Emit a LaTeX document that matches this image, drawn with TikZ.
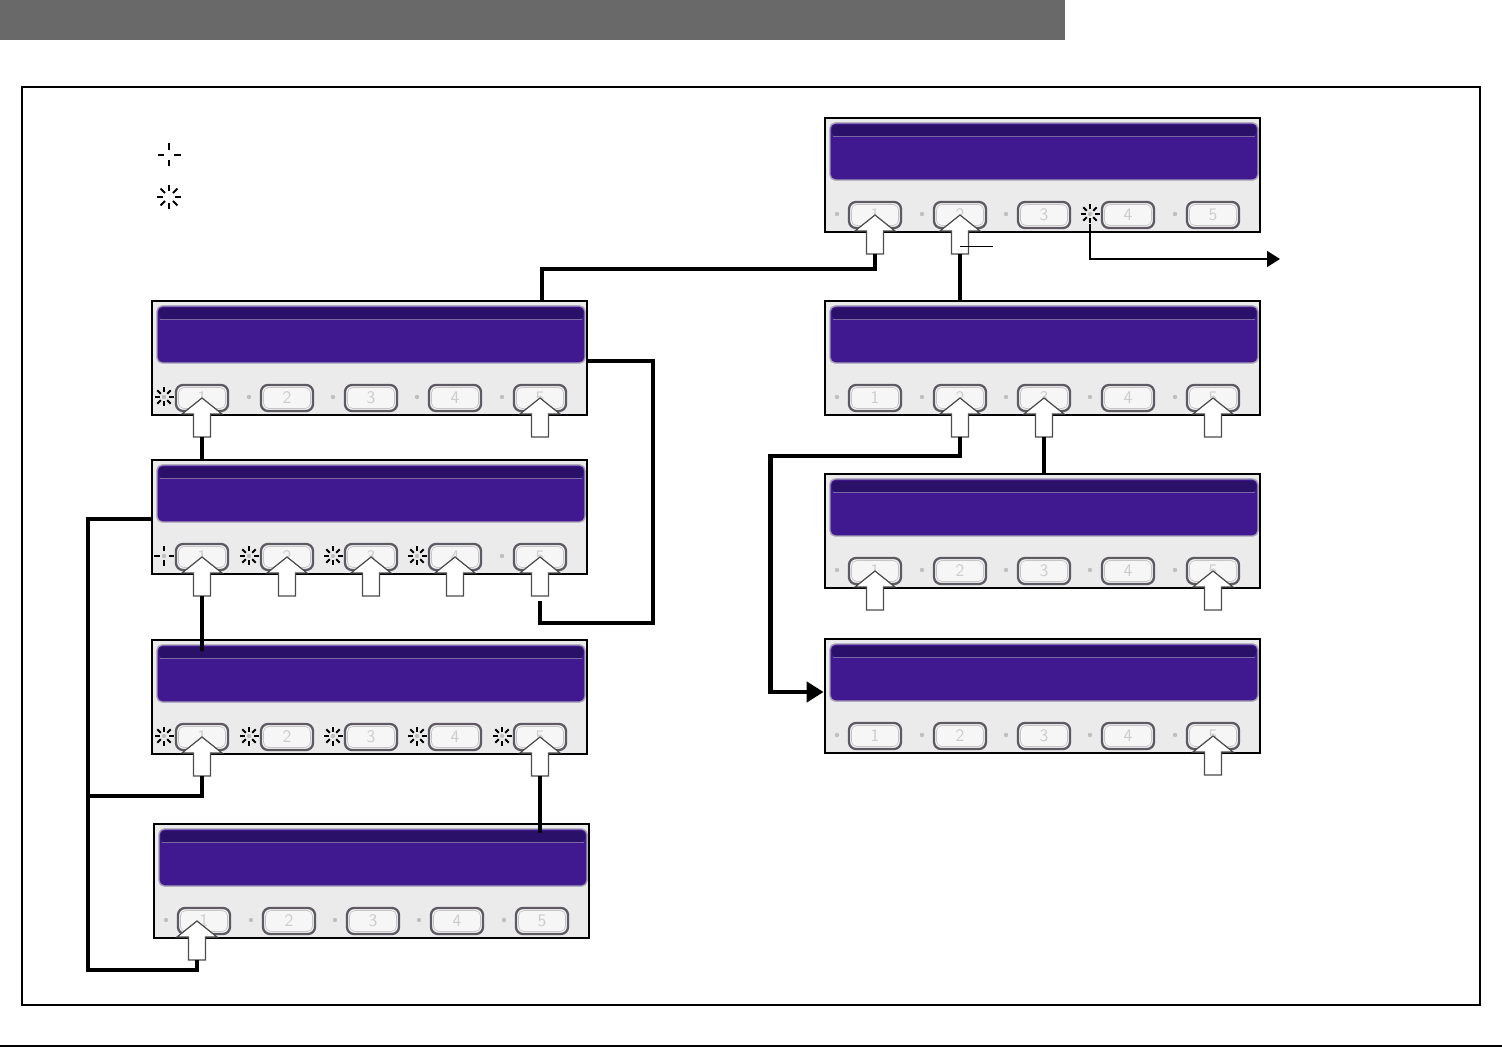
\documentclass[tikz,border=0pt]{standalone}
\usepackage{xcolor}
\usepackage{tikz}
\usetikzlibrary{arrows.meta,positioning,calc}

\definecolor{headgray}{HTML}{696969}
\definecolor{panelgray}{HTML}{EBEBEB}
\definecolor{lcdmain}{HTML}{40188F}
\definecolor{lcdtop}{HTML}{2A1068}
\definecolor{lcdrim}{HTML}{A49CB4}
\definecolor{keyrim}{HTML}{5E5963}
\definecolor{keyface}{HTML}{F6F6F6}

% one keypad: name, left, top (pixel units)
\newcommand{\keypad}[3]{%
\begin{scope}[shift={(#2,#3)}]
\node[panel] (#1) at (217.5,57) {};
\draw[lcd] (5,5) rectangle (433,62);
\fill[lcdtop,rounded corners=2pt] (7,7) rectangle (431,18);
\draw[lcdrim!60!lcdmain,line width=0.5pt] (8,18.5) -- (430,18.5);
\foreach \k/\bx in {1/50,2/135,3/219,4/303,5/388}{%
  \coordinate (#1-k\k) at (\bx,97);
  \coordinate (#1-l\k) at (\bx-38,96);
  \fill[gray!50] (#1-l\k) circle (2.2);
  \draw[key] (\bx-26,84) rectangle (\bx+26,110);
  \draw[gray!45,line width=0.4pt,rounded corners=3pt] (\bx-23.5,86.5) rectangle (\bx+23.5,107.5);
  \node[keynum] at (#1-k\k) {\k};
}
\end{scope}}

\begin{document}
\begin{tikzpicture}[x=0.02cm,y=-0.02cm,
  panel/.style={draw,line width=1.6pt,fill=panelgray,minimum width=8.7cm,minimum height=2.28cm,inner sep=0pt},
  lcd/.style={fill=lcdmain,draw=lcdrim,line width=0.8pt,rounded corners=3pt},
  key/.style={fill=keyface,draw=keyrim,line width=1.3pt,rounded corners=4pt},
  keynum/.style={font=\sffamily,text=gray!40,inner sep=0pt},
  presskey/.style={fill=white,draw=gray!60!black,line width=0.7pt,line join=miter},
  link/.style={line width=2.8pt,line join=miter},
  note/.style={line width=0.9pt,-{Triangle[length=2.6mm,width=3.2mm]}},
  leader/.style={line width=0.5pt},
  ray/.style={line width=1.1pt},
  press/.pic={\path[presskey] (0,0) -- (-20,16) -- (-8.5,16) -- (-8.5,39) -- (8.5,39) -- (8.5,16) -- (20,16) -- cycle;
    \coordinate (-foot) at (0,39);},
  ledblink/.pic={\foreach \a in {0,45,...,315} \draw[ray] (\a:4.5) -- (\a:9.5);},
  ledon/.pic={\foreach \a in {0,90,180,270} \draw[ray] (\a:4.5) -- (\a:10);}]
\useasboundingbox (0,0) rectangle (1502,1047);

% page frame
\fill[headgray] (0,0) rectangle (1065,40);
\draw[line width=1.1pt] (22,87) rectangle (1480,1005);
\draw[line width=1.3pt] (0,1046) -- (1502,1046);

% legend
\coordinate (key-on) at (169,155);
\coordinate (key-blink) at (169,197);
\pic[scale=1.15] at (key-on) {ledon};
\pic[scale=1.25] at (key-blink) {ledblink};

% keypads
\keypad{pa}{152}{301}
\keypad{pb}{152}{460}
\keypad{pc}{152}{640}
\keypad{pd}{154}{824}
\keypad{ra}{825}{118}
\keypad{rb}{825}{301}
\keypad{rc}{825}{474}
\keypad{rd}{825}{639}

% pressed keys
\foreach \p/\k in {pa/1,pa/5,pb/1,pb/2,pb/3,pb/4,pb/5,pc/1,pc/5,ra/1,ra/2,rb/2,rb/3,rb/5,rc/1,rc/5,rd/5}
  \pic (\p-a\k) at (\p-k\k) {press};
\pic (pd-a1) at ([xshift=-0.14cm]pd-k1) {press};

% leds
\pic at (pa-l1) {ledblink};
\pic at (pb-l1) {ledon};
\foreach \k in {2,3,4} \pic at (pb-l\k) {ledblink};
\foreach \k in {1,...,5} \pic at (pc-l\k) {ledblink};
\pic at (ra-l4) {ledblink};

% connectors
\coordinate (pa-in) at (542,301);
\coordinate (pa-out) at (587,361);
\coordinate (pb-out) at (152,519);
\coordinate (rail) at (88,519);
\coordinate (exit) at (1280,259);
\coordinate (rd-in) at ([yshift=0.08cm]rd.west);

\draw[link] (ra-a1-foot) -- ++(0,15) -| (pa-in);
\draw[link] (ra-a2-foot) -- (ra-a2-foot |- rb.north);
\draw[leader] ([yshift=0.16cm]ra-a2-foot) -- ++(33,0);
\draw[note] ([yshift=-0.2cm]ra-l4) |- (exit);

\draw[link] (pa-out) -- ++(66,0) -- ++(0,262) -| ([yshift=-0.1cm]pb-a5-foot);
\draw[link] (pa-a1-foot) -- (pa-a1-foot |- pb.north);
\draw[link] (pb-a1-foot) -- ([yshift=-0.24cm]pb-a1-foot |- pc.north);
\draw[link] (pb-out) -- (rail) |- ([yshift=-0.2cm]pd-a1-foot) -- (pd-a1-foot);
\draw[link] (pc-a1-foot) -- ++(0,20) coordinate (tap) -- (tap -| rail);
\draw[link] (pc-a5-foot) -- ([yshift=-0.2cm]pc-a5-foot |- pd.north);

\draw[link,-{Triangle[length=3.4mm,width=4mm]}] (rb-a2-foot) -- ++(0,19) -| ([xshift=-1.06cm]rd-in) -- (rd-in);
\draw[link] (rb-a3-foot) -- (rb-a3-foot |- rc.north);
\end{tikzpicture}
\end{document}
